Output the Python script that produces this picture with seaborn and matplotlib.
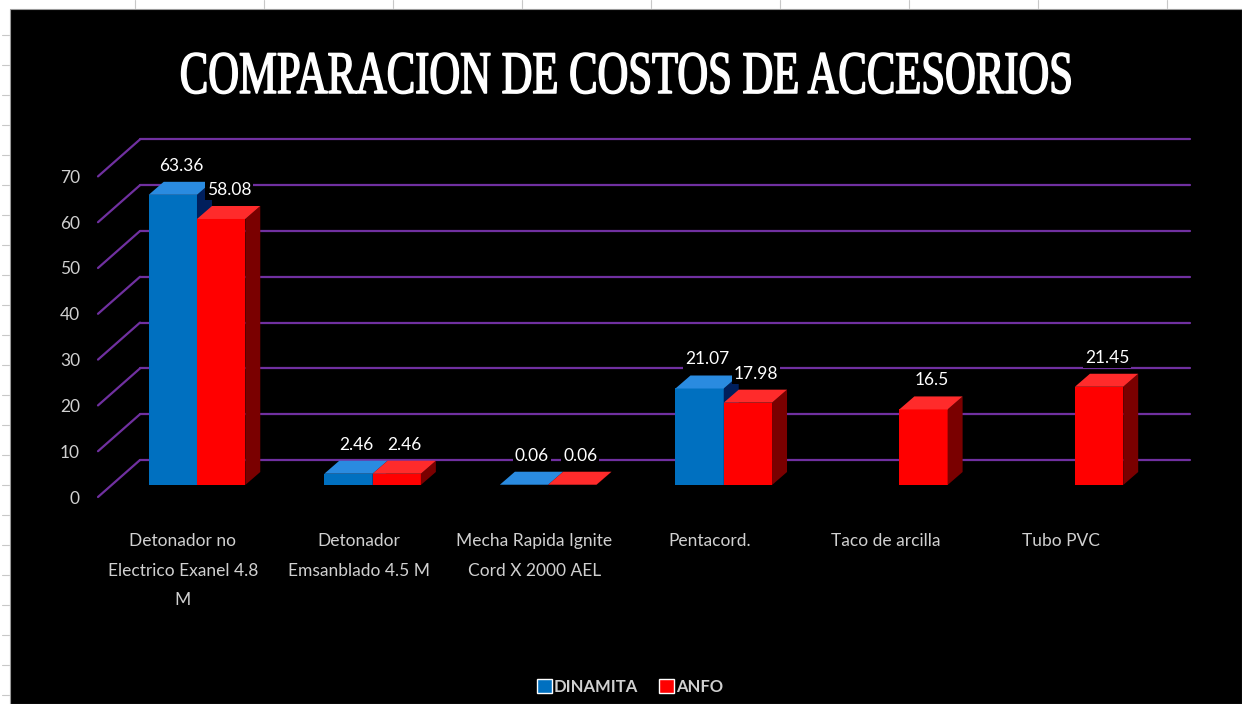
import numpy as np
import pandas as pd
import matplotlib
matplotlib.use("Agg")
import matplotlib.pyplot as plt
import seaborn as sns
from matplotlib.patches import Polygon, Rectangle
from matplotlib.lines import Line2D
from matplotlib import patheffects, transforms

# ---- data -------------------------------------------------------------
categories = [
    "Detonador no\nElectrico Exanel 4.8\nM",
    "Detonador\nEmsanblado 4.5 M",
    "Mecha Rapida Ignite\nCord X 2000 AEL",
    "Pentacord.",
    "Taco de arcilla",
    "Tubo PVC",
]
series_names = ["DINAMITA", "ANFO"]
dinamita = [63.36, 2.46, 0.06, 21.07, np.nan, np.nan]
anfo = [58.08, 2.46, 0.06, 17.98, 16.5, 21.45]
value_labels = {
    "DINAMITA": ["63.36", "2.46", "0.06", "21.07", None, None],
    "ANFO": ["58.08", "2.46", "0.06", "17.98", "16.5", "21.45"],
}
yticks = [0, 10, 20, 30, 40, 50, 60, 70]
title = "COMPARACION DE COSTOS DE ACCESORIOS"

front_colors = {"DINAMITA": "#0070c0", "ANFO": "#ff0000"}
top_colors = {"DINAMITA": "#2a8be0", "ANFO": "#ff2b2b"}
side_colors = {"DINAMITA": "#001f5c", "ANFO": "#7a0000"}
grid_color = "#7030a0"
text_grey = "#d0d0d0"

df = pd.DataFrame({
    "categoria": categories * 2,
    "serie": [series_names[0]] * len(categories) + [series_names[1]] * len(categories),
    "valor": dinamita + anfo,
}).dropna()

# ---- style ------------------------------------------------------------
sns.set_theme(style="white")
plt.rcParams["font.family"] = ["Lato", "DejaVu Sans"]

W, H = 1242, 704
fig = plt.figure(figsize=(W / 100, H / 100), dpi=100, facecolor="white")

# black chart area inside the worksheet margin
fig.patches.append(Rectangle((10 / W, 0), 1 - 10 / W, 1 - 9 / H,
                             transform=fig.transFigure, facecolor="black",
                             edgecolor="#9a9a9a", lw=0.8, zorder=-5))
# worksheet cell marks in the margins
for xp in np.arange(135, W, 129):
    fig.add_artist(Line2D([xp / W, xp / W], [1 - 8 / H, 1], color="#c8c8c8", lw=0.8,
                          zorder=-4))
for yp in np.arange(35, H, 30):
    fig.add_artist(Line2D([2 / W, 9 / W], [1 - yp / H, 1 - yp / H], color="#c8c8c8",
                          lw=0.8, zorder=-4))

# axes = plane of the bar front faces
ax = fig.add_axes([112 / W, 219 / H, 1050 / W, 320.6 / H])
ax.set_facecolor("none")
ax.set_zorder(1)
for s in ax.spines.values():
    s.set_visible(False)

sns.barplot(data=df, x="categoria", y="valor", hue="serie", order=categories,
            hue_order=series_names, palette=front_colors, width=0.55,
            saturation=1, errorbar=None, ax=ax)

ax.set_xlim(-0.484, 5.496)
ax.set_ylim(0, 70)
ax.set_xlabel("")
ax.set_ylabel("")
ax.set_yticks(yticks)
ax.tick_params(axis="y", length=0, pad=13, labelsize=12.5, labelcolor=text_grey)
ax.tick_params(axis="x", length=0, pad=26, labelsize=12.5, labelcolor=text_grey)
for lbl in ax.get_xticklabels():
    lbl.set_linespacing(2.05)
    lbl.set_multialignment("center")

# pixel -> data unit conversion for the perspective offsets
p0 = ax.transData.transform((0, 0))
pxx = ax.transData.transform((1, 0))[0] - p0[0]
pxy = ax.transData.transform((0, 1))[1] - p0[1]
front = (-14 / pxx, -12 / pxy)     # plane of the axis labels / side wall start
back = (28 / pxx, 25 / pxy)        # back wall
depth = (15 / pxx, 13 / pxy)       # bar depth

# tick labels sit on the front plane
shift = transforms.Affine2D().translate(-14, -12)
for lbl in ax.get_yticklabels() + ax.get_xticklabels():
    lbl.set_transform(lbl.get_transform() + shift)

# back wall and side wall gridlines
x0, x1 = ax.get_xlim()
for v in yticks:
    ax.plot([x0 + back[0], x1 + back[0]], [v + back[1], v + back[1]],
            color=grid_color, lw=1.6, zorder=1, clip_on=False)
    ax.plot([x0 + front[0], x0 + back[0]], [v + front[1], v + back[1]],
            color=grid_color, lw=1.6, zorder=1, clip_on=False)

# 3-D faces and value labels for every bar
for idx, (name, cont) in enumerate(zip(series_names, ax.containers)):
    labels = [l for l in value_labels[name] if l is not None]
    for bar, text in zip(cont.patches, labels):
        h = bar.get_height()
        if not np.isfinite(h):
            continue
        bx, bw = bar.get_x(), bar.get_width()
        z = 3 + 2 * idx
        bar.set_zorder(z)
        bar.set_edgecolor("none")
        side = Polygon([(bx + bw, 0), (bx + bw + depth[0], depth[1]),
                        (bx + bw + depth[0], h + depth[1]), (bx + bw, h)],
                       closed=True, facecolor=side_colors[name], edgecolor="none",
                       zorder=z + 0.5, clip_on=False)
        top = Polygon([(bx, h), (bx + bw, h), (bx + bw + depth[0], h + depth[1]),
                       (bx + depth[0], h + depth[1])],
                      closed=True, facecolor=top_colors[name], edgecolor="none",
                      zorder=z + 0.6, clip_on=False)
        ax.add_patch(side)
        ax.add_patch(top)
        ax.annotate(text, (bx + bw / 2, h), xytext=(8, 29), textcoords="offset pixels",
                    ha="center", va="center", color="white", fontsize=12.5,
                    zorder=10 + idx, annotation_clip=False,
                    bbox=dict(boxstyle="square,pad=0.12", facecolor="black",
                              edgecolor="none"))

# legend at the bottom
sns.move_legend(ax, "center", bbox_to_anchor=(630 / W, 17 / H),
                bbox_transform=fig.transFigure, ncol=2, frameon=False, title=None,
                handlelength=0.9, handleheight=0.9, handletextpad=0.1,
                columnspacing=1.3, labelcolor=text_grey,
                prop=dict(weight="bold", size=12))


# condensed serif title: vertical stretch of the glyph outlines, with a thin
# stroke to thicken the regular weight
class _VStretch(patheffects.AbstractPathEffect):
    def __init__(self, sy, stroke=1.0):
        super().__init__()
        self._sy = sy
        self._stroke = stroke

    def draw_path(self, renderer, gc, tpath, affine, rgbFace=None):
        aff = transforms.Affine2D().scale(1, self._sy) + affine
        gc0 = renderer.new_gc()
        gc0.copy_properties(gc)
        gc0.set_linewidth(self._stroke)
        gc0.set_foreground(rgbFace if rgbFace is not None else "white")
        gc0.set_joinstyle("round")
        renderer.draw_path(gc0, tpath, aff, rgbFace)
        gc0.restore()


t = fig.text(626 / W, 1 - 93 / H, title, ha="center", va="baseline",
             family=["Liberation Serif", "DejaVu Serif"], weight="normal",
             color="white", fontsize=28)
fig.canvas.draw()
tw = t.get_window_extent().width
fs = 28 * 893 / tw
t.set_fontsize(fs)
cap_px = 0.662 * fs * 100 / 72
t.set_path_effects([_VStretch(40 / cap_px, stroke=1.1)])

fig.savefig("out.png", dpi=100, facecolor=fig.get_facecolor())
